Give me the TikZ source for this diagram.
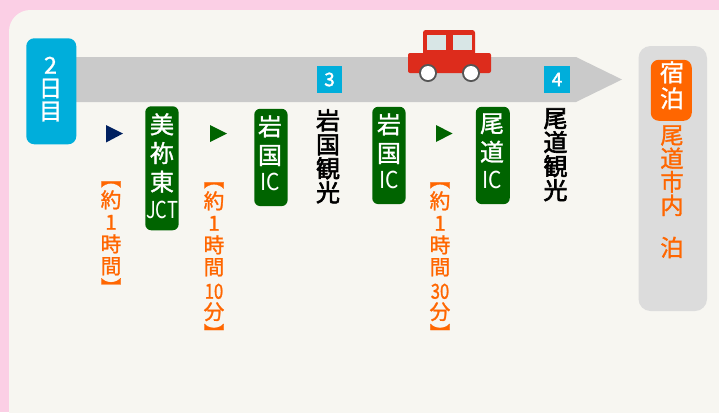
\documentclass[tikz,border=0pt]{standalone}
\usepackage{fontspec}
\setmainfont{Noto Sans CJK JP}
\definecolor{pagepink}{HTML}{FBCFE5}
\definecolor{paper}{HTML}{F7F6F1}
\definecolor{road}{HTML}{CACACA}
\definecolor{daycyan}{HTML}{00AEDB}
\definecolor{icgreen}{HTML}{006400}
\definecolor{timeorange}{HTML}{FF6600}
\definecolor{stayback}{HTML}{DCDCDC}
\definecolor{navytri}{HTML}{002060}
\definecolor{carred}{HTML}{DD2C1C}
\definecolor{carglass}{HTML}{D8E6E6}
\definecolor{wheelgrey}{HTML}{555555}
\newcommand{\fb}{\addfontfeature{FakeBold=1.2}}
\newcommand{\topbr}{{\addfontfeature{RawFeature=+vert}【}}
\newcommand{\botbr}{{\addfontfeature{RawFeature=+vert}】}}
\newcommand{\nd}[1]{{\addfontfeature{FakeStretch=0.8}#1}}
\tikzset{
  vtext/.style={inner sep=0pt,align=center,anchor=north},
  icbox/.style={fill=icgreen,rounded corners=4.5pt,text=white,draw=none},
  tri/.style={fill=#1,draw=none},
  whitebig/.style={vtext,text=white,font=\fontsize{18}{21.5}\selectfont\fb},
  latinlab/.style={vtext,text=white,font=\fontsize{17.5}{17.5}\selectfont},
  blacktxt/.style={vtext,text=black,font=\fontsize{18}{18}\selectfont\addfontfeature{FakeBold=2.5}},
  timetxt/.style={vtext,text=timeorange,font=\fontsize{15.5}{16.5}\selectfont\fb},
  numbox/.style={fill=daycyan,text=white,inner sep=0pt,font=\fontsize{14}{14}\selectfont\addfontfeature{FakeBold=2}}
}
\begin{document}
\begin{tikzpicture}[x=0.75pt,y=-0.75pt]
\useasboundingbox (0,0) rectangle (719,412);
\fill[pagepink] (0,0) rectangle (719,412);
\fill[paper,rounded corners=16pt] (9,440) -- (9,10) -- (750,10) -- (750,440) -- cycle;
\fill[pagepink] (0,0) rectangle (719,10);
\fill[pagepink] (0,0) rectangle (9,412);
% road
\fill[road] (70,57) -- (576,57) -- (622,79.5) -- (576,102) -- (70,102) -- cycle;
% day label
\node[fill=daycyan,rounded corners=6pt,minimum width=50pt*0.75,minimum height=106pt*0.75,inner sep=0pt,anchor=north west,text=white] (day) at (26,38) {};
\node[vtext,text=white,font=\fontsize{17.5}{17.25}\selectfont\fb] (daytxt) at (50.5,56.5) {2\\日\\目};
% triangles
\fill[tri=navytri] (106,125) -- (123,133.5) -- (106,142.5) -- cycle;
\fill[tri=icgreen] (210,125) -- (227,133.5) -- (210,142) -- cycle;
\fill[tri=icgreen] (436,125) -- (452.5,133.5) -- (436,142) -- cycle;
% IC boxes
\node[icbox,minimum width=25pt,minimum height=93pt,inner sep=0pt,anchor=north west] (jctbox) at (145,106) {};
\node[whitebig] (jcttxt) at (162,113) {美\\祢\\東};
\node[latinlab] (jct) at (162,201) {\addfontfeature{FakeStretch=0.78}JCT};
\node[icbox,minimum width=25pt,minimum height=73pt,inner sep=0pt,anchor=north west] (ic1box) at (254,108.5) {};
\node[whitebig] (ic1txt) at (270,115) {岩\\国};
\node[latinlab] (ic1ic) at (270,173) {\addfontfeature{FakeStretch=0.9}IC};
\node[icbox,minimum width=25pt,minimum height=73pt,inner sep=0pt,anchor=north west] (ic2box) at (372,106.5) {};
\node[whitebig] (ic2txt) at (389,113) {岩\\国};
\node[latinlab] (ic2ic) at (389,171) {\addfontfeature{FakeStretch=0.9}IC};
\node[icbox,minimum width=25.5pt,minimum height=73pt,inner sep=0pt,anchor=north west] (ic3box) at (475.5,106.5) {};
\node[whitebig] (ic3txt) at (492,113) {尾\\道};
\node[latinlab] (ic3ic) at (492,171) {\addfontfeature{FakeStretch=0.9}IC};
% numbers
\node[numbox,minimum width=25pt*0.75,minimum height=27pt*0.75] (n3) at (329.5,79.5) {3};
\node[numbox,minimum width=26pt*0.75,minimum height=27pt*0.75] (n4) at (557,79.5) {4};
% sightseeing
\node[blacktxt] (kanko3) at (328,109) {岩\\国\\観\\光};
\node[blacktxt] (kanko4) at (555.5,108) {尾\\道\\観\\光};
% times
\node[timetxt] (t1) at (111,181) {\topbr\\約\\1\\時\\間\\\botbr};
\node[timetxt] (t2) at (214,182) {\topbr\\約\\1\\時\\間\\[1.5pt]\nd{10}\\[-1pt]分\\\botbr};
\node[timetxt] (t3) at (440,182) {\topbr\\約\\1\\時\\間\\[1.5pt]\nd{30}\\[-1pt]分\\\botbr};
% stay
\fill[stayback,rounded corners=9pt] (638.5,46) rectangle (707,311);
\node[fill=timeorange,rounded corners=6pt,minimum width=41pt*0.75,minimum height=61pt*0.75,inner sep=0pt,anchor=north west] (staybox) at (650.5,59.5) {};
\node[whitebig,font=\fontsize{18}{19.5}\selectfont\fb] (staytxt) at (672,61) {宿\\泊};
\node[vtext,text=timeorange,font=\fontsize{17.5}{17.6}\selectfont\fb] (city) at (672,125) {尾\\道\\市\\内\\[14pt]泊};
% car
\fill[carred,rounded corners=2pt] (423,30) rectangle (475,60);
\fill[carred,rounded corners=1.5pt] (408,53) rectangle (491,73);
\fill[carglass] (427,35) rectangle (446,50);
\fill[carglass] (453,35) rectangle (472,50);
\fill[wheelgrey] (428,73) circle (9);
\fill[white] (428,73) circle (7);
\fill[wheelgrey] (471,73) circle (9);
\fill[white] (471,73) circle (7);
\end{tikzpicture}
\end{document}
